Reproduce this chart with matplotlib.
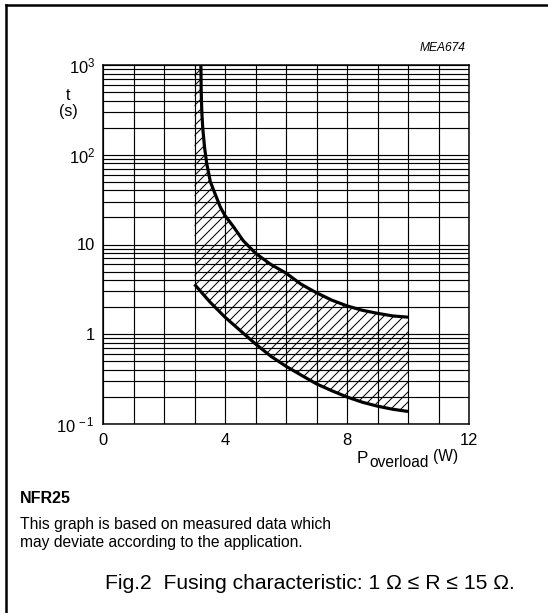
import matplotlib
matplotlib.use("Agg")
import matplotlib.pyplot as plt
from matplotlib.ticker import LogLocator, FixedLocator, NullFormatter
from matplotlib.lines import Line2D

# ---- data ----
upper_x = [3.21, 3.22, 3.24, 3.27, 3.33, 3.40, 3.52, 3.67, 3.85, 4.0, 4.27, 4.6,
           5.0, 5.5, 6.0, 6.5, 7.0, 7.5, 8.0, 8.5, 9.0, 9.5, 10.0]
upper_y = [1000, 500, 300, 200, 120, 80, 50, 37, 26, 21, 15.9, 11,
           8.0, 6.0, 4.8, 3.6, 2.9, 2.4, 2.07, 1.85, 1.71, 1.6, 1.55]
lower_x = [3.0, 3.5, 4.0, 4.5, 5.0, 5.5, 6.0, 6.5, 7.0, 7.5, 8.0, 8.5, 9.0, 9.5, 10.0]
lower_y = [3.6, 2.3, 1.55, 1.1, 0.78, 0.57, 0.44, 0.35, 0.28, 0.235, 0.20, 0.175,
           0.158, 0.146, 0.138]
x_ticks = [0, 4, 8, 12]
x_ticklabels = ["0", "4", "8", "12"]
y_ticks = [0.1, 1, 10, 100, 1000]
y_ticklabels = [r"$10^{\,-1}$", "1", "10", r"$10^2$", r"$10^3$"]

DPI = 120
W, H = 548, 613
def px(p):
    return p * 72.0 / DPI

plt.rcParams['font.family'] = ['Liberation Sans', 'DejaVu Sans']
plt.rcParams['mathtext.fontset'] = 'custom'
plt.rcParams['mathtext.rm'] = 'Liberation Sans'
plt.rcParams['mathtext.it'] = 'Liberation Sans:italic'
plt.rcParams['hatch.linewidth'] = 0.6

fig = plt.figure(figsize=(W / DPI, H / DPI), dpi=DPI)
fig.patch.set_facecolor('white')

L, R, T, B = 103, 469, 65, 424
ax = fig.add_axes([L / W, 1 - B / H, (R - L) / W, (B - T) / H])
ax.set_yscale('log')
ax.set_xlim(0, 12)
ax.set_ylim(0.1, 1000)

# grid
ax.xaxis.set_major_locator(FixedLocator(x_ticks))
ax.xaxis.set_minor_locator(FixedLocator(list(range(0, 13))))
ax.yaxis.set_major_locator(FixedLocator(y_ticks))
ax.yaxis.set_minor_locator(LogLocator(base=10, subs=[2, 3, 4, 5, 6, 7, 8, 9]))
ax.yaxis.set_minor_formatter(NullFormatter())
ax.set_xticklabels(x_ticklabels)
ax.set_yticklabels(y_ticklabels)
ax.grid(which='both', axis='both', color='black', linewidth=0.7)
ax.tick_params(which='both', length=0, labelsize=px(16.5))
ax.tick_params(axis='x', pad=px(9))
ax.tick_params(axis='y', pad=px(8))
for s in ax.spines.values():
    s.set_linewidth(0.9)
    s.set_color('black')
ax.set_axisbelow(True)

# hatched band
poly_x = [3.0] + upper_x + lower_x[::-1]
poly_y = [1000] + upper_y + lower_y[::-1]
ax.fill(poly_x, poly_y, facecolor='none', edgecolor='black', hatch='////', linewidth=0)
ax.plot(upper_x, upper_y, color='black', linewidth=1.9, solid_capstyle='butt', clip_on=False)
ax.plot(lower_x, lower_y, color='black', linewidth=1.9, solid_capstyle='butt')

def ftext(x, y, s, **kw):
    fig.text(x / W, 1 - y / H, s, **kw)

# annotations
ftext(466, 51, "MEA674", ha='right', va='baseline', fontsize=px(12), style='italic')
ftext(68, 100, "t", ha='center', va='baseline', fontsize=px(16))
ftext(68, 116, "(s)", ha='center', va='baseline', fontsize=px(16))
ftext(357, 463, "P", ha='left', va='baseline', fontsize=px(17))
ftext(369, 467, "overload", ha='left', va='baseline', fontsize=px(15.5))
ftext(433, 460.5, "(W)", ha='left', va='baseline', fontsize=px(15.5))

ftext(20, 503, "NFR25", ha='left', va='baseline', fontsize=px(16), fontweight='bold')
ftext(20, 529, "This graph is based on measured data which", ha='left', va='baseline', fontsize=px(15.6))
ftext(20, 547, "may deviate according to the application.", ha='left', va='baseline', fontsize=px(15.6))
ftext(310, 589, "Fig.2  Fusing characteristic: 1 \u03a9 \u2264 R \u2264 15 \u03a9.",
      ha='center', va='baseline', fontsize=px(21.1))

# frame lines
fig.add_artist(Line2D([6 / W, 1.0], [1 - 5 / H, 1 - 5 / H], color='black', linewidth=1.5))
fig.add_artist(Line2D([6 / W, 6 / W], [0, 1 - 5 / H], color='black', linewidth=1.5))

fig.savefig("out.png", dpi=DPI, facecolor='white')
